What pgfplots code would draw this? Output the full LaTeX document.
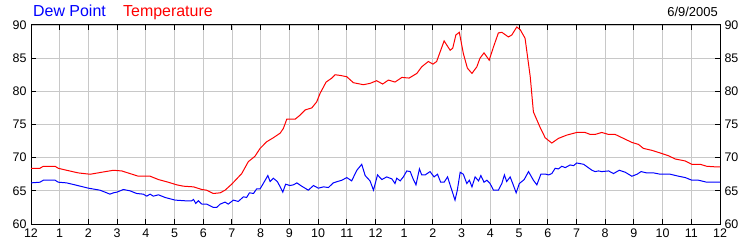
\documentclass[border=0pt]{standalone}
\usepackage{fontspec}
\setmainfont{Liberation Sans}
\usepackage{pgfplots}
\usepackage{pgfplotstable}
\pgfplotsset{compat=1.18}
\pgfplotstableread{
x y
0 68.4
0.31 68.4
0.43 68.7
0.84 68.7
0.95 68.4
1.24 68.1
1.65 67.7
2.06 67.5
2.46 67.8
2.87 68.1
3.16 68.0
3.45 67.6
3.74 67.2
4.15 67.2
4.44 66.7
4.78 66.3
5.08 65.9
5.31 65.7
5.66 65.6
5.95 65.2
6.12 65.1
6.35 64.6
6.59 64.7
6.76 65.1
6.99 66.0
7.34 67.6
7.57 69.4
7.80 70.2
7.98 71.4
8.21 72.4
8.44 73.0
8.68 73.7
8.79 74.4
8.91 75.8
9.20 75.8
9.37 76.4
9.55 77.2
9.78 77.5
9.95 78.4
10.07 79.7
10.28 81.4
10.48 82.0
10.59 82.5
10.77 82.4
11.00 82.2
11.23 81.3
11.58 81.0
11.81 81.2
12.04 81.6
12.25 81.1
12.45 81.7
12.68 81.4
12.92 82.1
13.17 82.0
13.44 82.7
13.61 83.7
13.84 84.5
14.00 84.1
14.13 84.5
14.39 87.6
14.60 86.2
14.69 86.5
14.80 88.5
14.92 88.9
15.06 85.7
15.20 83.5
15.36 82.7
15.53 83.7
15.64 85.0
15.78 85.8
15.96 84.7
16.11 86.7
16.28 88.8
16.40 88.9
16.63 88.2
16.75 88.5
16.92 89.7
17.04 89.3
17.21 88.0
17.39 82.2
17.50 76.9
17.73 74.6
17.91 73.0
18.14 72.2
18.37 72.9
18.66 73.4
19.01 73.8
19.30 73.8
19.48 73.5
19.65 73.5
19.88 73.8
20.12 73.5
20.35 73.5
20.64 72.9
20.93 72.3
21.16 72.0
21.33 71.4
21.63 71.1
21.92 70.7
22.20 70.3
22.44 69.8
22.79 69.5
23.02 69.0
23.31 69.0
23.54 68.7
23.89 68.6
24 68.6
}\temptable
\pgfplotstableread{
x y
0 66.2
0.31 66.3
0.43 66.6
0.84 66.6
0.95 66.3
1.24 66.2
1.53 65.9
2.0 65.4
2.4 65.1
2.58 64.8
2.75 64.5
2.87 64.7
2.99 64.8
3.22 65.2
3.45 65.0
3.68 64.6
3.91 64.5
4.03 64.2
4.15 64.5
4.26 64.2
4.44 64.4
4.67 64.0
5.02 63.6
5.37 63.5
5.60 63.5
5.66 63.7
5.74 63.1
5.83 63.5
5.95 63.0
6.12 63.0
6.35 62.5
6.47 62.5
6.59 63.0
6.76 63.3
6.87 63.0
7.05 63.6
7.22 63.4
7.40 64.1
7.51 64.0
7.61 64.7
7.75 64.6
7.86 65.3
7.98 65.3
8.09 66.1
8.25 67.3
8.33 66.4
8.44 66.9
8.58 66.4
8.68 65.6
8.77 64.8
8.87 66.0
9.02 65.8
9.14 65.9
9.26 66.2
9.43 65.7
9.66 65.1
9.84 65.8
10.01 65.4
10.19 65.6
10.36 65.5
10.53 66.2
10.67 66.4
10.83 66.6
11.00 67.0
11.17 66.5
11.35 68.1
11.52 69.0
11.64 67.3
11.81 66.5
11.93 65.1
12.07 67.4
12.22 66.7
12.39 67.1
12.57 66.8
12.68 66.1
12.74 66.9
12.86 66.5
12.97 67.1
13.09 68.0
13.21 67.9
13.30 66.9
13.41 65.9
13.53 68.3
13.61 67.4
13.73 67.4
13.90 67.9
14.04 67.1
14.16 67.5
14.27 66.3
14.39 66.3
14.51 67.1
14.62 65.6
14.77 63.6
14.85 65.1
14.95 67.8
15.06 67.5
15.18 66.1
15.27 66.6
15.36 65.6
15.47 67.1
15.59 66.5
15.67 67.3
15.78 66.3
15.88 66.6
15.99 66.1
16.11 65.1
16.28 65.1
16.40 66.1
16.49 67.4
16.57 66.4
16.69 67.1
16.78 66.1
16.90 64.7
17.01 66.1
17.18 66.7
17.33 67.9
17.50 66.6
17.62 65.9
17.76 67.5
17.94 67.5
18.03 67.4
18.14 67.6
18.26 68.4
18.37 68.3
18.49 68.7
18.61 68.5
18.78 68.9
18.90 68.8
19.01 69.2
19.25 69.0
19.54 68.1
19.65 67.9
19.77 68.0
19.88 67.9
20.12 68.0
20.29 67.6
20.49 68.1
20.70 67.8
20.93 67.2
21.11 67.5
21.25 67.9
21.45 67.7
21.69 67.7
21.92 67.5
22.27 67.5
22.56 67.2
22.79 67.0
23.02 66.6
23.25 66.6
23.54 66.3
23.89 66.3
24 66.3
}\dewtable
\begin{document}
\begin{tikzpicture}
\begin{axis}[
  at={(0,0)}, anchor=south west,
  scale only axis, width=689bp, height=199bp,
  xmin=0, xmax=24, ymin=60, ymax=90,
  xtick={0,...,24},
  xticklabels={12,1,2,3,4,5,6,7,8,9,10,11,12,1,2,3,4,5,6,7,8,9,10,11,12},
  ytick={60,65,...,90},
  grid=major,
  major grid style={draw={rgb,255:red,200;green,200;blue,200}, line width=0.9bp},
  axis line style={black, line width=1bp},
  major tick length=5bp,
  tick style={black, line width=1bp},
  tick align=inside,
  tick label style={font=\fontsize{12.5}{14}\selectfont, text=black},
  /pgf/number format/assume math mode=true,
  xticklabel style={yshift=-1bp},
  yticklabel style={xshift=-1bp},
]
\addplot[red, line width=1bp, no markers] table[x=x,y=y] {\temptable};
\addplot[blue, line width=1bp, no markers] table[x=x,y=y] {\dewtable};
\end{axis}
\begin{axis}[
  at={(0,0)}, anchor=south west,
  scale only axis, width=689bp, height=199bp,
  xmin=0, xmax=24, ymin=60, ymax=90,
  hide x axis,
  axis y line*=right,
  axis line style={draw=none},
  ytick={60,65,...,90},
  major tick length=0pt,
  tick style={draw=none},
  tick label style={font=\fontsize{12.5}{14}\selectfont, text=black},
  /pgf/number format/assume math mode=true,
  yticklabel style={xshift=1bp},
]
\end{axis}
\node[anchor=base west, inner sep=0pt, text=blue, font=\fontsize{16}{18}\selectfont] at (2bp,207bp) {Dew Point};
\node[anchor=base west, inner sep=0pt, text=red, font=\fontsize{16}{18}\selectfont] at (92bp,207bp) {Temperature};
\node[anchor=base east, inner sep=0pt, text=black, font=\fontsize{13}{14}\selectfont] at (687bp,207bp) {6/9/2005};
\pgfresetboundingbox
\path[use as bounding box] (-31bp,-26bp) rectangle (719bp,224bp);
\end{tikzpicture}
\end{document}
